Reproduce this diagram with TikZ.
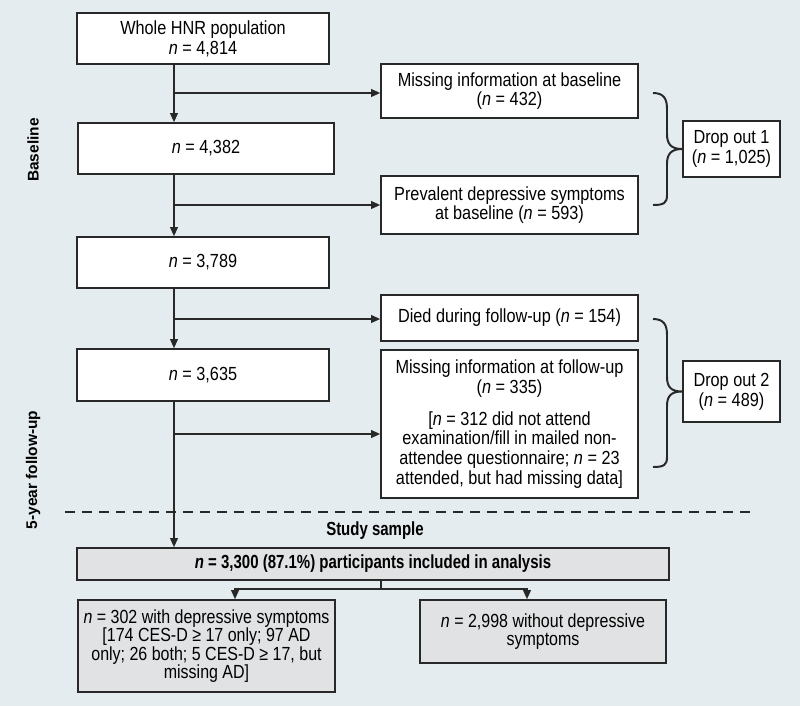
\documentclass[tikz,border=0pt]{standalone}
\usepackage{fontspec}
\setmainfont{Liberation Sans}[FakeStretch=0.857]
\newfontfamily\bcond{Liberation Sans}[FakeStretch=0.79]
\newfontfamily\ncond{Liberation Sans}[FakeStretch=0.843]
\newfontfamily\labelfont{Liberation Sans}
\usetikzlibrary{arrows.meta}
\definecolor{bg}{RGB}{229,236,239}
\definecolor{grayfill}{RGB}{225,226,227}
\definecolor{lnc}{RGB}{40,40,40}
\begin{document}
\begin{tikzpicture}[x=0.025cm,y=-0.025cm,
  bx/.style 2 args={draw=lnc, line width=1.1pt, fill=white, align=center, inner sep=0pt,
    minimum width=#1*0.025cm, minimum height=#2*0.025cm, font=\fontsize{13.5}{14}\selectfont},
  gbx/.style 2 args={bx={#1}{#2}, fill=grayfill},
  arr/.style={draw=lnc, line width=1.2pt, -{Triangle[length=6.5pt,width=5.5pt]}},
  conn/.style={draw=lnc, line width=1.2pt},
  brc/.style={draw=lnc, line width=1.4pt},
  side/.style={font=\labelfont\bfseries\fontsize{11}{13}\selectfont, rotate=90, inner sep=0pt}
]
\fill[bg] (0,0) rectangle (800,706);
\useasboundingbox (0,0) rectangle (800,706);

% left column
\node[bx={252}{51}] (b1) at (203,38.5) {Whole HNR population\\\textit{n} = 4,814};
\node[bx={256}{51}] (b2) at (206,148.5) {\textit{n} = 4,382};
\node[bx={252}{51}] (b3) at (203,262.5) {\textit{n} = 3,789};
\node[bx={252}{52}] (b4) at (203,375) {\textit{n} = 3,635};

% exclusion boxes
\node[bx={257}{54}] (e1) at (509.5,91) {Missing information at baseline\\(\textit{n} = 432)};
\node[bx={257}{58}] (e2) at (509.5,205) {Prevalent depressive symptoms\\at baseline (\textit{n} = 593)};
\node[bx={257}{46}] (e3) at (509.5,318) {Died during follow-up (\textit{n} = 154)};
\node[bx={257}{148}] (e4) at (509.5,424) {Missing information at follow-up\\(\textit{n} = 335)\\[8.8pt]{[}\textit{n} = 312 did not attend\\examination/fill in mailed non-\\attendee questionnaire; \textit{n} = 23\\attended, but had missing data]};

% drop out boxes
\node[bx={97}{56}] (d1) at (731.5,149) {Drop out 1\\(\textit{n} = 1,025)};
\node[bx={97}{61}] (d2) at (731.5,391.5) {Drop out 2\\(\textit{n} = 489)};

% study sample
\node[font=\bcond\bfseries\fontsize{13.5}{14}\selectfont, inner sep=0pt] (st) at (375,531) {Study sample};
\node[gbx={592}{32}, font=\bcond\bfseries\fontsize{13.5}{14}\selectfont] (s) at (373,564) {\textit{n} = 3,300 (87.1\%) participants included in analysis};
\node[gbx={257}{92}, font=\ncond\fontsize{13.5}{13}\selectfont] (g1) at (206.5,646) {\textit{n} = 302 with depressive symptoms\\{[}174 CES-D ≥ 17 only; 97 AD\\only; 26 both; 5 CES-D ≥ 17, but\\missing AD]};
\node[gbx={246}{63}, font=\ncond\fontsize{13.5}{13}\selectfont] (g2) at (543,631.5) {\textit{n} = 2,998 without depressive\\symptoms};

% side labels
\node[side] (lb) at (33,150) {Baseline};
\node[side] (lf) at (33,470) {5-year follow-up};

% main flow
\coordinate (v) at (174,0);
\draw[arr] (b1.south -| v) -- (b2.north -| v);
\draw[arr] (b2.south -| v) -- (b3.north -| v);
\draw[arr] (b3.south -| v) -- (b4.north -| v);
\draw[arr] (b4.south -| v) -- (s.north -| v);

% branches
\coordinate (j1) at (174,93);
\coordinate (j2) at (174,205);
\coordinate (j3) at (174,319);
\coordinate (j4) at (174,434);
\draw[arr] (j1) -- (j1 -| e1.west);
\draw[arr] (j2) -- (j2 -| e2.west);
\draw[arr] (j3) -- (j3 -| e3.west);
\draw[arr] (j4) -- (j4 -| e4.west);

% split at bottom
\coordinate (sp) at (381,589);
\coordinate (ta) at (235,0);
\coordinate (tb) at (527,0);
\draw[conn] (s.south -| sp) -- (sp);
\draw[arr] (sp) -| (g1.north -| ta);
\draw[arr] (sp) -| (g2.north -| tb);

% dashed separator
\draw[conn, dash pattern=on 7pt off 5pt] (65,512) -- (752,512);

% braces
\draw[brc] (653,93) .. controls (664,93) and (667,99) .. (667,109) -- (667,134)
  .. controls (667,144) and (671,149) .. (d1.west)
  .. controls (671,149) and (667,154) .. (667,164) -- (667,195)
  .. controls (667,203) and (664,205) .. (653,205);
\draw[brc] (653,319) .. controls (664,319) and (667,325) .. (667,335) -- (667,377)
  .. controls (667,387) and (671,391.5) .. (d2.west)
  .. controls (671,391.5) and (667,396) .. (667,406) -- (667,457)
  .. controls (667,465) and (664,467) .. (653,467);
\end{tikzpicture}
\end{document}
